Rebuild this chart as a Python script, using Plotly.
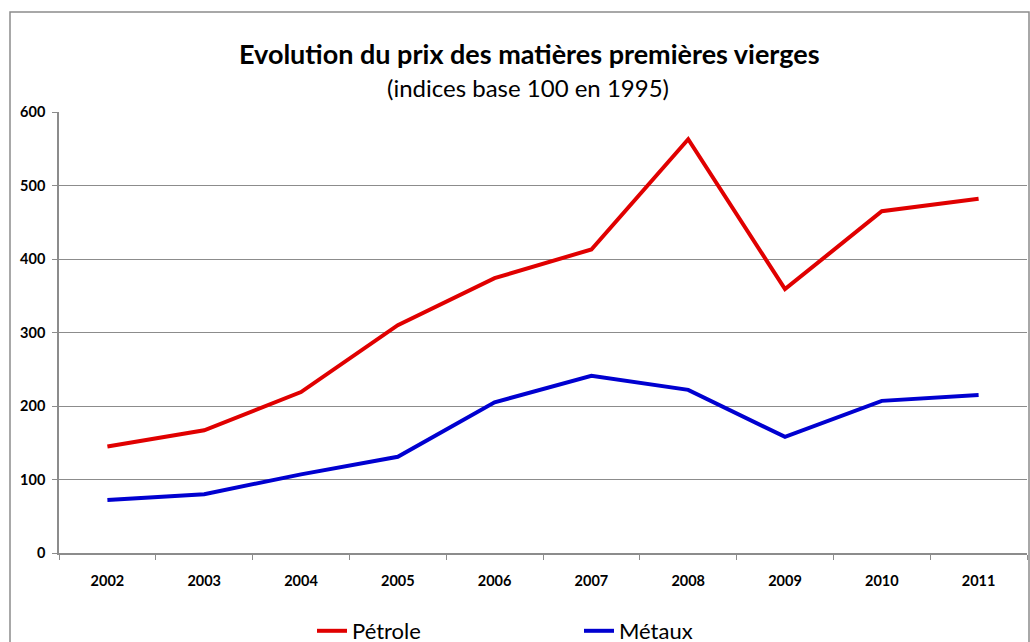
import plotly.graph_objects as go

years = ["2002", "2003", "2004", "2005", "2006", "2007", "2008", "2009", "2010", "2011"]
petrole = [145, 167, 219, 310, 374, 413, 563, 359, 465, 482]
metaux = [72, 80, 107, 131, 205, 241, 222, 158, 207, 215]

FONT = "Lato"

fig = go.Figure()
fig.add_trace(go.Scatter(x=years, y=petrole, name="Pétrole", mode="lines",
                         line=dict(color="#E00000", width=4)))
fig.add_trace(go.Scatter(x=years, y=metaux, name="Métaux", mode="lines",
                         line=dict(color="#0000D0", width=4)))

# figure frame
L, R, T, B = 59, 3, 112, 89
W, H = 1030, 642
pw, ph = W - L - R, H - T - B
def px_x(p):
    return (p - L) / pw
def px_y(p):
    return (H - B - p) / ph

fig.add_shape(type="rect", xref="paper", yref="paper",
              x0=px_x(10), x1=px_x(1029), y0=px_y(660), y1=px_y(12),
              line=dict(color="#8c8c8c", width=1.5), layer="below")

fig.add_annotation(text="<b>Evolution du prix des matières premières vierges</b>",
                   xref="paper", yref="paper", x=px_x(529), y=px_y(53),
                   showarrow=False, font=dict(family=FONT, size=27, color="black"),
                   xanchor="center", yanchor="middle")
fig.add_annotation(text="(indices base 100 en 1995)",
                   xref="paper", yref="paper", x=px_x(528), y=px_y(88),
                   showarrow=False, font=dict(family=FONT, size=24, color="black"),
                   xanchor="center", yanchor="middle")

fig.update_layout(
    width=W, height=H,
    margin=dict(l=L, r=R, t=T, b=B, autoexpand=False),
    paper_bgcolor="white", plot_bgcolor="white",
    font=dict(family=FONT, color="black"),
    showlegend=True,
    legend=dict(orientation="h", x=px_x(312), y=px_y(631), xanchor="left", yanchor="middle",
                entrywidth=222, entrywidthmode="pixels",
                font=dict(family=FONT, size=22, color="black"),
                bgcolor="rgba(0,0,0,0)"),
    xaxis=dict(type="category", range=[-0.5, 9.5], showgrid=False,
               showline=True, linecolor="#8c8c8c", linewidth=1.5,
               ticks="outside", tickson="boundaries", ticklen=5, tickcolor="#8c8c8c",
               ticklabelstandoff=14,
               tickfont=dict(family=FONT, size=14.5, color="black", weight="bold"),
               fixedrange=True),
    yaxis=dict(range=[0, 600], dtick=100, showgrid=True, gridcolor="#8c8c8c", gridwidth=1,
               showline=True, linecolor="#8c8c8c", linewidth=1.5,
               ticks="outside", ticklen=5, tickcolor="#8c8c8c",
               ticklabelstandoff=4,
               tickfont=dict(family=FONT, size=14.5, color="black", weight="bold"),
               zeroline=False, fixedrange=True),
)

fig.write_html("out.html")
